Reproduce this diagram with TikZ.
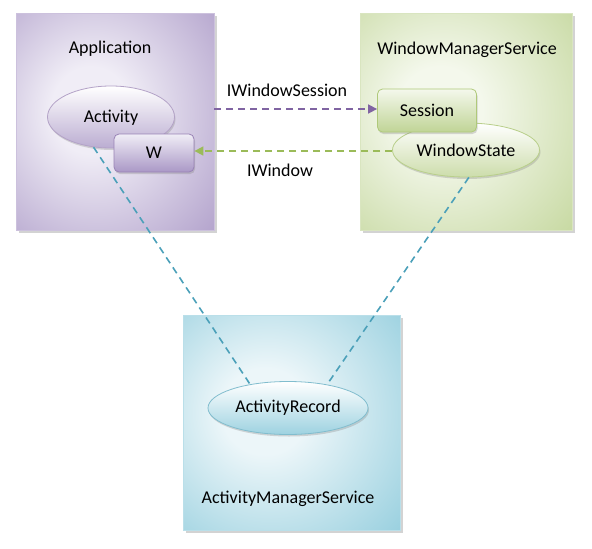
\documentclass[tikz,border=0pt]{standalone}
\usepackage{fontspec}
\setmainfont{Carlito}
\usetikzlibrary{shapes.geometric,shadows,arrows.meta}
\definecolor{purpE}{RGB}{170,152,198}
\definecolor{purpC}{RGB}{240,237,246}
\definecolor{greenE}{RGB}{192,212,150}
\definecolor{greenC}{RGB}{244,248,236}
\definecolor{aquaE}{RGB}{140,202,219}
\definecolor{aquaC}{RGB}{236,246,249}
\definecolor{purpL}{RGB}{128,100,162}
\definecolor{greenL}{RGB}{155,187,89}
\definecolor{aquaL}{RGB}{75,160,185}
\colorlet{pin}{white}
\colorlet{pout}{gray}
\pgfdeclareradialshading[pin,pout]{panelshade}{\pgfpoint{-7bp}{3bp}}{color(0bp)=(pin); color(10bp)=(pin); color(44bp)=(pout); color(80bp)=(pout)}
\tikzset{
  x=1pt, y=-1pt,
  every node/.style={font=\fontsize{18}{21}\selectfont, text=black},
  panel/.style={draw=#1, line width=0.8pt, shading=panelshade,
    drop shadow={shadow xshift=2.5pt, shadow yshift=-2.5pt, opacity=0.35}},
  ellnode/.style={ellipse, inner sep=0pt, line width=0.8pt, drop shadow={shadow xshift=1pt, shadow yshift=-2pt, opacity=0.3}},
  rbox/.style={rectangle, rounded corners=5pt, inner sep=0pt, line width=0.8pt, drop shadow={shadow xshift=1pt, shadow yshift=-2pt, opacity=0.3}},
  link/.style={line width=1.6pt, dash pattern=on 7pt off 5pt},
}
\begin{document}
\begin{tikzpicture}
\useasboundingbox (0,0) rectangle (592,549);
% panels
\colorlet{pin}{purpC}\colorlet{pout}{purpE}
\path[panel=purpE!60] (16,13) rectangle (214,230);
\colorlet{pin}{greenC}\colorlet{pout}{greenE}
\path[panel=greenE!60] (360,13) rectangle (572,230);
\colorlet{pin}{aquaC}\colorlet{pout}{aquaE}
\path[panel=aquaE!60] (183,315) rectangle (400,530);
% titles
\node (tapp) at (110,49) {Application};
\node (twms) at (467,50) {WindowManagerService};
\node (tams) at (288,499) {ActivityManagerService};
% inner nodes
\node[ellnode, draw=purpL!60, top color=white, bottom color=purpE!80, minimum width=127pt, minimum height=62pt] (act) at (111,117) {};
\node at (111,118) {Activity};
\node[rbox, draw=purpL!80, top color=purpC, bottom color=purpE, minimum width=80pt, minimum height=38pt] (w) at (154,153) {W};
\node[ellnode, draw=greenL!70, top color=white, bottom color=greenE!80, minimum width=147pt, minimum height=54pt] (ws) at (466,150) {WindowState};
\node[rbox, draw=greenL!80, top color=greenC, bottom color=greenE, minimum width=99pt, minimum height=43pt] (sess) at (427,110.5) {Session};
\node[ellnode, draw=aquaL!70, top color=white, bottom color=aquaE!85, minimum width=160pt, minimum height=53pt] (ar) at (288,408) {ActivityRecord};
% connectors
\coordinate (appR) at (214,109);
\draw[link, draw=purpL, -{Triangle[length=9pt,width=9pt]}] (appR) -- (sess.west |- appR);
\node at (287,90) {IWindowSession};
\draw[link, draw=greenL, -{Triangle[length=9pt,width=9pt]}] (ws.west |- 0,151) -- (w.east |- 0,151);
\node at (280,170) {IWindow};
\draw[link, draw=aquaL] (act.240) -- (ar.148);
\draw[link, draw=aquaL] (ws.276) -- (ar.31);
\end{tikzpicture}
\end{document}
